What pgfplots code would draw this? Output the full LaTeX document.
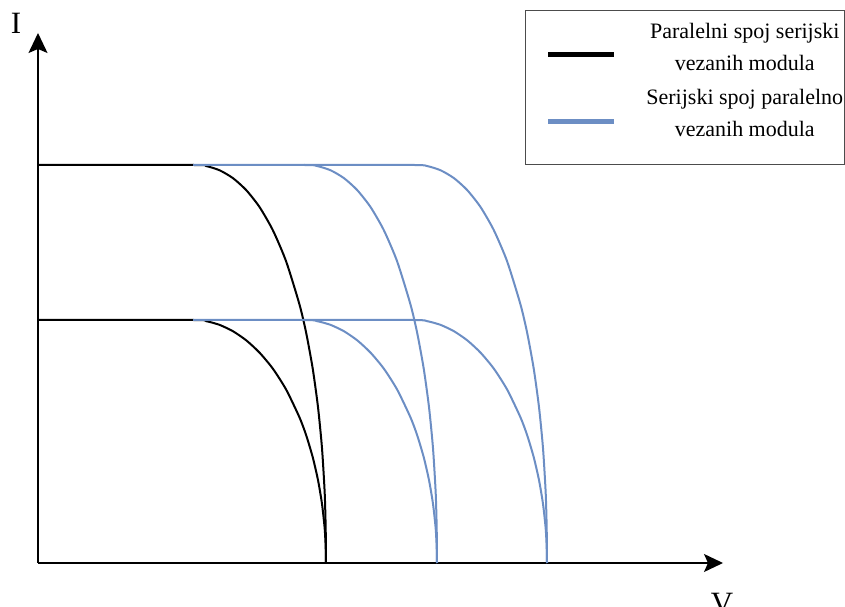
\documentclass[border=0pt]{standalone}
\usepackage{fontspec}
\setmainfont{Liberation Serif}
\usepackage{pgfplots}
\pgfplotsset{compat=1.18}
\usetikzlibrary{arrows.meta}
\definecolor{bl}{RGB}{108,142,196}
\begin{document}
\begin{tikzpicture}
\useasboundingbox (-38pt,-44pt) rectangle (807pt,563pt);
\begin{axis}[
 scale only axis, width=685pt, height=530pt,
 xmin=0, xmax=685, ymin=0, ymax=530,
 axis lines=left, enlargelimits=false,
 xtick=\empty, ytick=\empty,
 axis line style={line width=1.4pt},
 x axis line style={-{Stealth[length=19pt,width=18pt,inset=4pt]}},
 y axis line style={-{Stealth[length=20pt,width=19pt,inset=4pt]}},
 clip=false,
 legend style={at={(axis cs:487,553)}, anchor=north west, draw=black!70, line width=0.8pt,
   inner xsep=1pt, inner ysep=5.4pt, font=\fontsize{22}{32}\selectfont,
   nodes={inner sep=0pt, anchor=center}, row sep=25pt, column sep=0pt},
 every axis plot/.append style={line width=2pt, line join=round, smooth, tension=0.4},
]
\addplot[black, forget plot] coordinates {(0,398) (155,398) (168.3,396.9) (181.6,392.7) (194.9,384.9) (208.2,372.9) (221.5,356.0) (234.8,332.9) (248.1,301.7) (261.4,258.8) (268.1,230.5) (274.7,194.5) (280.0,155.9) (284.0,114.8) (286.7,70.0) (287.7,33.8) (288,0)};
\addplot[black, forget plot] coordinates {(0,243) (155,243) (168.3,241.8) (181.6,238.1) (194.9,231.8) (208.2,222.7) (221.5,210.4) (234.8,194.4) (248.1,173.5) (261.4,145.8) (268.1,128.0) (274.7,105.9) (280.0,82.9) (284.0,59.1) (286.7,34.3) (287.7,15.4) (288,0)};
\addplot[bl, forget plot] coordinates {(155,398) (266,398) (279.3,396.9) (292.6,392.7) (305.9,384.9) (319.2,372.9) (332.5,356.0) (345.8,332.9) (359.1,301.7) (372.4,258.8) (379.1,230.5) (385.7,194.5) (391.0,155.9) (395.0,114.8) (397.7,70.0) (398.7,33.8) (399,0)};
\addplot[bl, forget plot] coordinates {(266,398) (376,398) (389.3,396.9) (402.6,392.7) (415.9,384.9) (429.2,372.9) (442.5,356.0) (455.8,332.9) (469.1,301.7) (482.4,258.8) (489.1,230.5) (495.7,194.5) (501.0,155.9) (505.0,114.8) (507.7,70.0) (508.7,33.8) (509,0)};
\addplot[bl, forget plot] coordinates {(155,243) (266,243) (279.3,241.8) (292.6,238.1) (305.9,231.8) (319.2,222.7) (332.5,210.4) (345.8,194.4) (359.1,173.5) (372.4,145.8) (379.1,128.0) (385.7,105.9) (391.0,82.9) (395.0,59.1) (397.7,34.3) (398.7,15.4) (399,0)};
\addplot[bl, forget plot] coordinates {(266,243) (376,243) (389.3,241.8) (402.6,238.1) (415.9,231.8) (429.2,222.7) (442.5,210.4) (455.8,194.4) (469.1,173.5) (482.4,145.8) (489.1,128.0) (495.7,105.9) (501.0,82.9) (505.0,59.1) (507.7,34.3) (508.7,15.4) (509,0)};
\addlegendimage{legend image code/.code={\path[draw=none] (0pt,0pt) -- (120pt,0pt); \draw[black, line width=5pt] (22pt,-19.6pt) -- (88pt,-19.6pt);}}
\addlegendentry{\begin{tabular}{@{}c@{}}Paralelni spoj serijski\\vezanih modula\end{tabular}}
\addlegendimage{legend image code/.code={\path[draw=none] (0pt,0pt) -- (120pt,-57pt); \draw[bl, line width=5pt] (22pt,-19.6pt) -- (88pt,-19.6pt);}}
\addlegendentry{\begin{tabular}{@{}c@{}}Serijski spoj paralelno\\vezanih modula\end{tabular}}
\end{axis}
\node at (-22pt,540pt) {\fontsize{31}{31}\selectfont I};
\node at (684pt,-41pt) {\fontsize{31}{31}\selectfont V};
\end{tikzpicture}
\end{document}
